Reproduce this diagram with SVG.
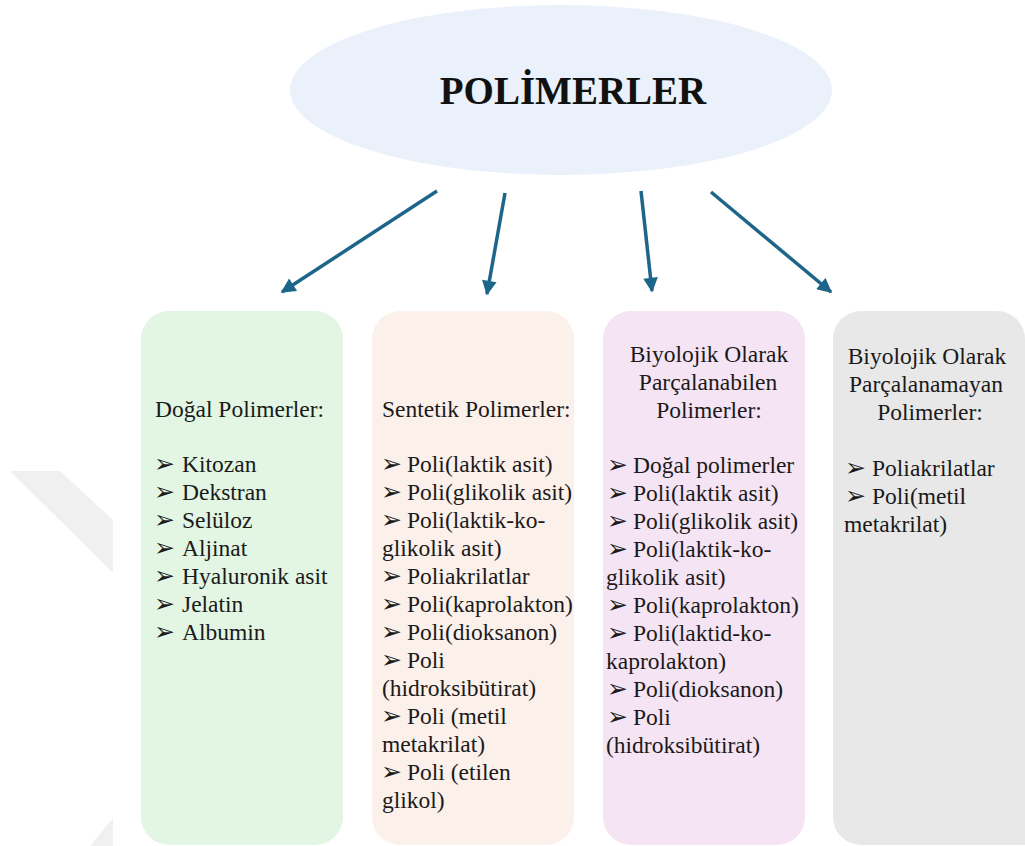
<svg xmlns="http://www.w3.org/2000/svg" width="1025" height="846" viewBox="0 0 1025 846">
  <defs>
    <style>
      .conn { stroke: #1d6689; stroke-width: 3.5; fill: none; marker-end: url(#arr); }
    </style>
    <marker id="arr" viewBox="0 0 10 10" refX="9" refY="5" markerWidth="4.6" markerHeight="4.2" orient="auto" markerUnits="strokeWidth">
      <path d="M0,0 L10,5 L0,10 z" fill="#1d6689"/>
    </marker>
  </defs>
  <rect width="1025" height="846" fill="#ffffff"/>
  <g id="watermark" fill="#f0f0f0">
    <polygon points="10,471 60,471 113,520 113,573"/>
    <polygon points="90,846 113,818 113,846"/>
  </g>

  <g id="root">
    <ellipse cx="561" cy="90" rx="271" ry="85" fill="#eaf1fa"/>
    <text x="573" y="104" text-anchor="middle" font-family="Liberation Serif" font-weight="bold" font-size="39" fill="#111111">POLİMERLER</text>
  </g>

  <g id="connectors">
    <line class="conn" x1="437" y1="191" x2="282" y2="292"/>
    <line class="conn" x1="505" y1="193" x2="487" y2="294"/>
    <line class="conn" x1="641" y1="191" x2="652" y2="291"/>
    <line class="conn" x1="711" y1="192" x2="831" y2="292"/>
  </g>

  <g id="dogal">
    <rect x="141" y="311" width="202" height="534" rx="28" fill="#e2f6e3"/>
    <text x="155" y="417" font-family="Liberation Serif" font-size="23.5" fill="#1a1a1a">Doğal Polimerler:</text>
    <g font-family="DejaVu Sans" font-size="25" fill="#1a1a1a">
      <text x="154" y="472">➢</text><text x="154" y="500">➢</text><text x="154" y="528">➢</text>
      <text x="154" y="556">➢</text><text x="154" y="584">➢</text><text x="154" y="612">➢</text>
      <text x="154" y="640">➢</text>
    </g>
    <g font-family="Liberation Serif" font-size="23.5" fill="#1a1a1a">
      <text x="182" y="472">Kitozan</text>
      <text x="182" y="500">Dekstran</text>
      <text x="182" y="528">Selüloz</text>
      <text x="182" y="556">Aljinat</text>
      <text x="182" y="584">Hyaluronik asit</text>
      <text x="182" y="612">Jelatin</text>
      <text x="182" y="640">Albumin</text>
    </g>
  </g>

  <g id="sentetik">
    <rect x="372" y="311" width="202" height="534" rx="28" fill="#fcf0eb"/>
    <g font-family="DejaVu Sans" font-size="25" fill="#1a1a1a">
      <text x="381" y="472">➢</text><text x="381" y="500">➢</text><text x="381" y="528">➢</text>
      <text x="381" y="584">➢</text><text x="381" y="612">➢</text><text x="381" y="640">➢</text>
      <text x="381" y="668">➢</text><text x="381" y="724">➢</text><text x="381" y="780">➢</text>
    </g>
    <g font-family="Liberation Serif" font-size="23.5" fill="#1a1a1a">
      <text x="382" y="417">Sentetik Polimerler:</text>
      <text x="407" y="472">Poli(laktik asit)</text>
      <text x="407" y="500">Poli(glikolik asit)</text>
      <text x="407" y="528">Poli(laktik-ko-</text>
      <text x="382" y="556">glikolik asit)</text>
      <text x="407" y="584">Poliakrilatlar</text>
      <text x="407" y="612">Poli(kaprolakton)</text>
      <text x="407" y="640">Poli(dioksanon)</text>
      <text x="407" y="668">Poli</text>
      <text x="382" y="696">(hidroksibütirat)</text>
      <text x="407" y="724">Poli (metil</text>
      <text x="382" y="752">metakrilat)</text>
      <text x="407" y="780">Poli (etilen</text>
      <text x="382" y="808">glikol)</text>
    </g>
  </g>

  <g id="parcalanabilen">
    <rect x="603" y="311" width="202" height="534" rx="28" fill="#f5e4f4"/>
    <g font-family="DejaVu Sans" font-size="25" fill="#1a1a1a">
      <text x="607" y="473">➢</text><text x="607" y="501">➢</text><text x="607" y="529">➢</text>
      <text x="607" y="557">➢</text><text x="607" y="613">➢</text><text x="607" y="641">➢</text>
      <text x="607" y="697">➢</text><text x="607" y="725">➢</text>
    </g>
    <g font-family="Liberation Serif" font-size="23.5" fill="#1a1a1a">
      <text x="709" y="362" text-anchor="middle">Biyolojik Olarak</text>
      <text x="708" y="390" text-anchor="middle">Parçalanabilen</text>
      <text x="709" y="418" text-anchor="middle">Polimerler:</text>
      <text x="633" y="473">Doğal polimerler</text>
      <text x="633" y="501">Poli(laktik asit)</text>
      <text x="633" y="529">Poli(glikolik asit)</text>
      <text x="633" y="557">Poli(laktik-ko-</text>
      <text x="606" y="585">glikolik asit)</text>
      <text x="633" y="613">Poli(kaprolakton)</text>
      <text x="633" y="641">Poli(laktid-ko-</text>
      <text x="606" y="669">kaprolakton)</text>
      <text x="633" y="697">Poli(dioksanon)</text>
      <text x="633" y="725">Poli</text>
      <text x="606" y="753">(hidroksibütirat)</text>
    </g>
  </g>

  <g id="parcalanamayan">
    <rect x="833" y="311" width="192" height="534" rx="28" fill="#e8e8e8"/>
    <rect x="1000" y="340" width="25" height="505" fill="#e8e8e8"/>
    <g font-family="DejaVu Sans" font-size="25" fill="#1a1a1a">
      <text x="845" y="476">➢</text><text x="845" y="504">➢</text>
    </g>
    <g font-family="Liberation Serif" font-size="23.5" fill="#1a1a1a">
      <text x="927" y="364" text-anchor="middle">Biyolojik Olarak</text>
      <text x="926" y="392" text-anchor="middle">Parçalanamayan</text>
      <text x="930" y="420" text-anchor="middle">Polimerler:</text>
      <text x="872" y="476">Poliakrilatlar</text>
      <text x="872" y="504">Poli(metil</text>
      <text x="844" y="532">metakrilat)</text>
    </g>
  </g>
</svg>
